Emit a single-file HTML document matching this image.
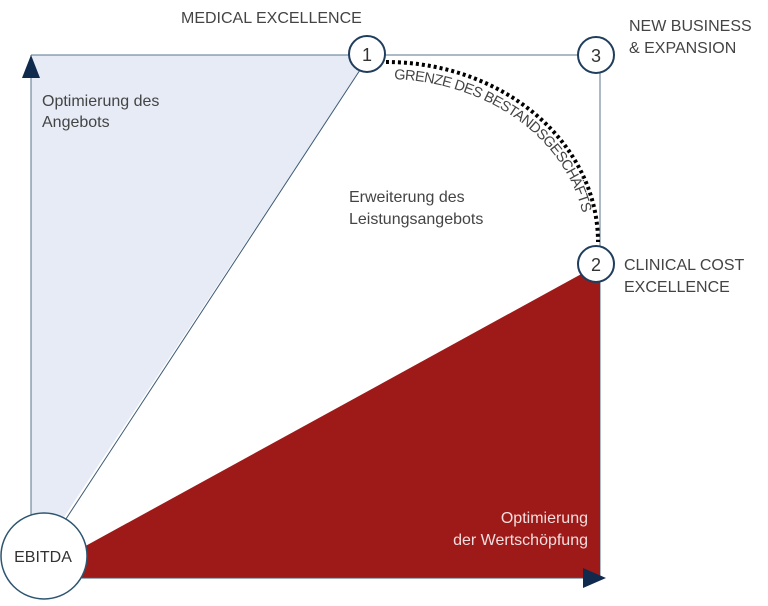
<!DOCTYPE html>
<html><head><style>body{margin:0;background:#fff}svg{display:block}text{font-family:"Liberation Sans",sans-serif;}</style></head>
<body>
<svg width="768" height="606" viewBox="0 0 768 606">
<polygon points="31,55 367,55 360,70 62,520 31,520" fill="#e6ebf5"/>
<line x1="31" y1="55" x2="31" y2="520" stroke="#5a7590" stroke-width="1"/>
<line x1="31" y1="55" x2="596" y2="55" stroke="#5a7590" stroke-width="1"/>
<line x1="360" y1="70" x2="62" y2="525" stroke="#3d5a75" stroke-width="1"/>
<line x1="600" y1="55" x2="600" y2="578" stroke="#5a7590" stroke-width="1"/>
<polygon points="80,549 585,272 600,270 600,578 80,578" fill="#9e1a18"/>
<line x1="80" y1="578" x2="598" y2="578" stroke="#3d5a75" stroke-width="1"/>
<polygon points="31,55 22,78 40,78" fill="#0f2a4d"/>
<polygon points="606,578 583,568 583,588" fill="#0f2a4d"/>
<path d="M386,62 A212,180 0 0 1 598,242" fill="none" stroke="#000" stroke-width="4" stroke-dasharray="3,3"/>
<path id="arc2" d="M386,79 A200,165 0 0 1 586,244" fill="none"/>
<text font-size="14.5" fill="#444" letter-spacing="-0.6"><textPath href="#arc2" startOffset="8">GRENZE DES BESTANDSGESCHÄFTS</textPath></text>
<circle cx="367" cy="54" r="18" fill="#fff" stroke="#1f3d5c" stroke-width="2"/>
<circle cx="596" cy="55" r="18" fill="#fff" stroke="#1f3d5c" stroke-width="2"/>
<circle cx="596" cy="264" r="18" fill="#fff" stroke="#1f3d5c" stroke-width="2"/>
<circle cx="44" cy="556" r="43" fill="#fff" stroke="#2d5570" stroke-width="1.5"/>
<g font-size="18" fill="#333" text-anchor="middle">
<text x="367" y="61">1</text><text x="596" y="62">3</text><text x="596" y="271">2</text>
</g>
<text x="43" y="562" font-size="16" fill="#333" text-anchor="middle">EBITDA</text>
<g font-size="16" fill="#444">
<text x="181" y="23">MEDICAL EXCELLENCE</text>
<text x="629" y="31">NEW BUSINESS</text>
<text x="629" y="53">&amp; EXPANSION</text>
<text x="624" y="270">CLINICAL COST</text>
<text x="624" y="292">EXCELLENCE</text>
<text x="42" y="106">Optimierung des</text>
<text x="42" y="127">Angebots</text>
<text x="349" y="202">Erweiterung des</text>
<text x="349" y="224">Leistungsangebots</text>
</g>
<g font-size="16" fill="#f0dede" text-anchor="end">
<text x="588" y="523">Optimierung</text>
<text x="588" y="545">der Wertschöpfung</text>
</g>
</svg>
</body></html>
